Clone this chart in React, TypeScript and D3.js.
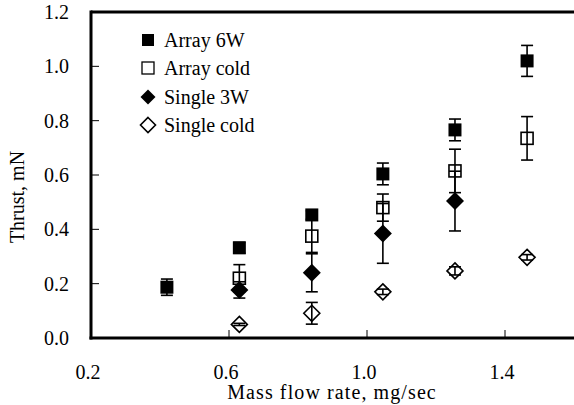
import React from "react";
import * as d3 from "d3";

const xTicks = [0.2, 0.6, 1.0, 1.4];
const yTicks = [0.0, 0.2, 0.4, 0.6, 0.8, 1.0, 1.2];

const array6wX = [0.42, 0.63, 0.84, 1.046, 1.255, 1.464];
const array6wY = [0.187, 0.332, 0.453, 0.604, 0.766, 1.02];
const array6wE = [0.03, 0.02, 0.015, 0.04, 0.04, 0.057];

const arrayColdX = [0.63, 0.84, 1.046, 1.255, 1.464];
const arrayColdY = [0.22, 0.375, 0.48, 0.615, 0.735];
const arrayColdE = [0.05, 0.06, 0.05, 0.08, 0.08];

const single3wX = [0.63, 0.84, 1.046, 1.255];
const single3wY = [0.177, 0.24, 0.385, 0.504];
const single3wE = [0.03, 0.07, 0.11, 0.11];

const singleColdX = [0.63, 0.84, 1.046, 1.255, 1.464];
const singleColdY = [0.05, 0.091, 0.17, 0.247, 0.297];
const singleColdE = [0.004, 0.04, 0.01, 0.015, 0.01];

const legendLabels = ["Array 6W", "Array cold", "Single 3W", "Single cold"];

const FONT = "'Liberation Serif', 'Times New Roman', serif";

type Series = { xs: number[]; ys: number[]; es: number[]; shape: "square" | "diamond"; filled: boolean };

export default function App() {
  const W = 574, H = 405;
  const left = 91, top = 12, bottom = 338;
  const x = d3.scaleLinear().domain([0.2, 1.6]).range([left, left + 1.4 * 345]);
  const y = d3.scaleLinear().domain([0, 1.2]).range([bottom, top]);

  const series: Series[] = [
    { xs: array6wX, ys: array6wY, es: array6wE, shape: "square", filled: true },
    { xs: arrayColdX, ys: arrayColdY, es: arrayColdE, shape: "square", filled: false },
    { xs: single3wX, ys: single3wY, es: single3wE, shape: "diamond", filled: true },
    { xs: singleColdX, ys: singleColdY, es: singleColdE, shape: "diamond", filled: false },
  ];

  const marker = (s: Series, cx: number, cy: number, key: string) => {
    if (s.shape === "square") {
      const h = s.filled ? 6.5 : 6;
      return (
        <rect key={key} x={cx - h} y={cy - h} width={2 * h} height={2 * h}
          fill={s.filled ? "#000" : "none"} stroke="#000" strokeWidth={s.filled ? 0 : 1.6} />
      );
    }
    const r = s.filled ? 9 : 8;
    const p = `M${cx},${cy - r}L${cx + r},${cy}L${cx},${cy + r}L${cx - r},${cy}Z`;
    return <path key={key} d={p} fill={s.filled ? "#000" : "none"} stroke="#000" strokeWidth={s.filled ? 0 : 1.6} />;
  };

  const legendY = [40, 68, 97, 125];

  return (
    <svg width={W} height={H} style={{ position: "absolute", left: 0, top: 0, background: "#fff" }}>
      <rect x={0} y={0} width={W} height={H} fill="#fff" />
      {/* axes */}
      <line x1={left} y1={top} x2={W} y2={top} stroke="#000" strokeWidth={3} />
      <line x1={left} y1={top - 1.5} x2={left} y2={bottom + 1.5} stroke="#000" strokeWidth={3} />
      <line x1={left - 1.5} y1={bottom} x2={W} y2={bottom} stroke="#000" strokeWidth={3} />
      {yTicks.map((t) => (
        <g key={"y" + t}>
          <line x1={left} x2={left + 8} y1={y(t)} y2={y(t)} stroke="#000" strokeWidth={1} />
          <text x={69} y={y(t)} dy="0.35em" textAnchor="end" fontFamily={FONT} fontSize={20}>{t.toFixed(1)}</text>
        </g>
      ))}
      {xTicks.map((t) => (
        <g key={"x" + t}>
          <line x1={x(t)} x2={x(t)} y1={bottom} y2={bottom - 8} stroke="#000" strokeWidth={1} />
          <text x={x(t) - 3} y={379} textAnchor="middle" fontFamily={FONT} fontSize={20}>{t.toFixed(1)}</text>
        </g>
      ))}
      <text x={332} y={399} textAnchor="middle" fontFamily={FONT} fontSize={20} letterSpacing={1.1}>Mass flow rate, mg/sec</text>
      <text transform={`translate(24,${(top + bottom) / 2 + 22}) rotate(-90)`} textAnchor="middle" fontFamily={FONT} fontSize={20}>Thrust, mN</text>

      {/* markers */}
      {series.map((s, si) => (
        <g key={"m" + si}>
          {s.xs.map((xv, i) => marker(s, x(xv), y(s.ys[i]), `m${si}-${i}`))}
        </g>
      ))}
      {/* error bars */}
      {series.map((s, si) => (
        <g key={"e" + si} stroke="#000" strokeWidth={1.6}>
          {s.xs.map((xv, i) => {
            const cx = x(xv);
            const y1 = y(s.ys[i] + s.es[i]);
            const y2 = y(s.ys[i] - s.es[i]);
            return (
              <g key={i}>
                <line x1={cx} x2={cx} y1={y1} y2={y2} />
                <line x1={cx - 6} x2={cx + 6} y1={y1} y2={y1} />
                <line x1={cx - 6} x2={cx + 6} y1={y2} y2={y2} />
              </g>
            );
          })}
        </g>
      ))}

      {/* legend */}
      {series.map((s, i) => (
        <g key={"l" + i}>
          {s.shape === "square"
            ? <rect x={142} y={legendY[i] - 6} width={12} height={12} fill={s.filled ? "#000" : "none"} stroke="#000" strokeWidth={s.filled ? 0 : 1.3} />
            : <path d={`M148,${legendY[i] - 7.5}L155.5,${legendY[i]}L148,${legendY[i] + 7.5}L140.5,${legendY[i]}Z`} fill={s.filled ? "#000" : "none"} stroke="#000" strokeWidth={s.filled ? 0 : 1.6} />}
          <text x={164} y={legendY[i]} dy="0.35em" fontFamily={FONT} fontSize={20}>{legendLabels[i]}</text>
        </g>
      ))}
    </svg>
  );
}
